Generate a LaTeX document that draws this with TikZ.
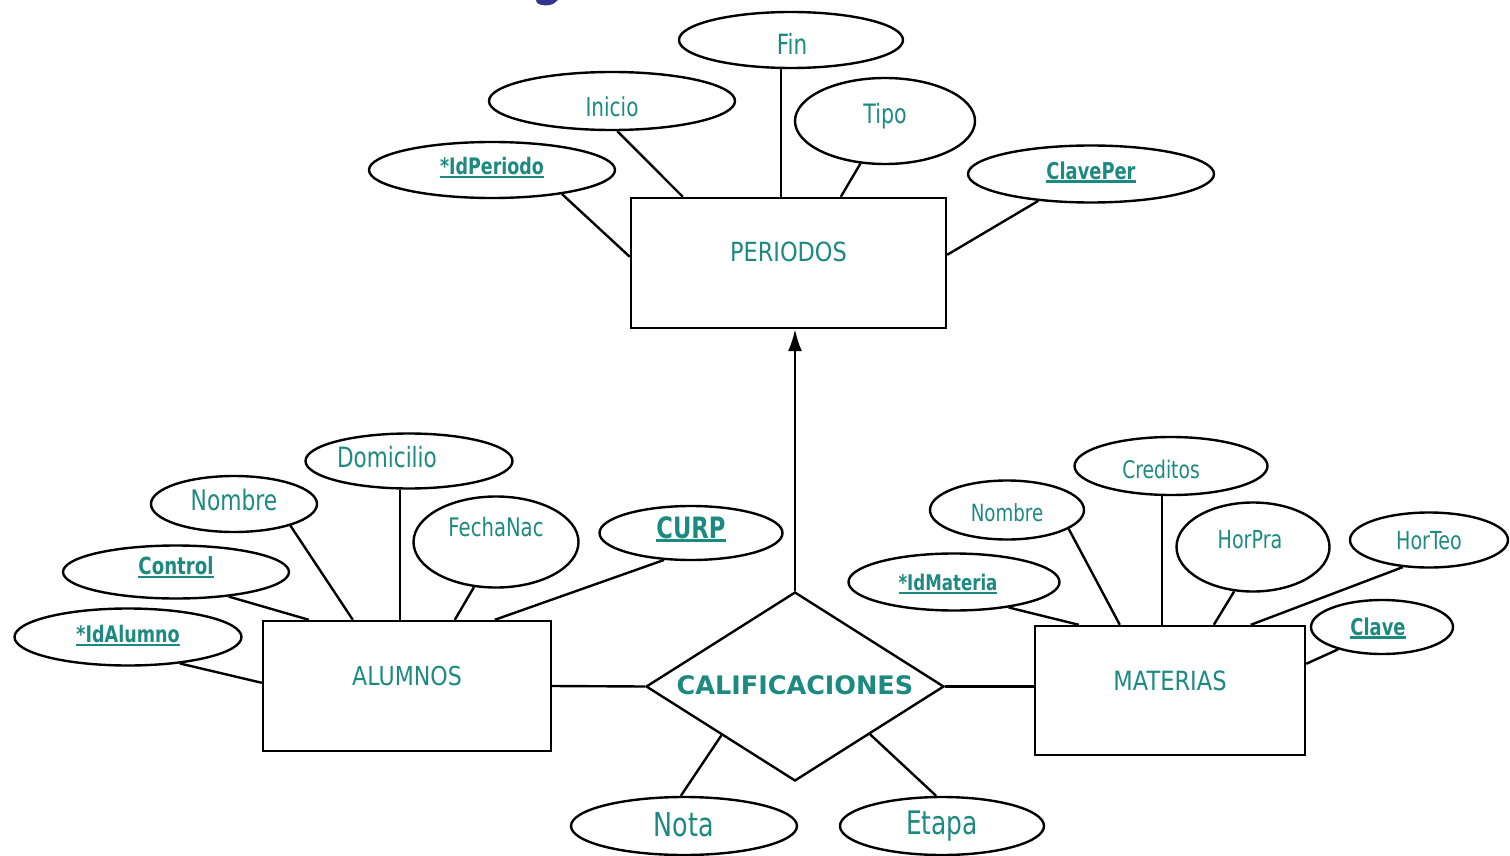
\documentclass[tikz,border=0pt]{standalone}
\usepackage{fontspec}
\setmainfont{DejaVu Sans}[FakeStretch=0.77]
\newfontfamily\entfont{DejaVu Sans}[FakeStretch=0.85]
\newfontfamily\widefont{DejaVu Sans}
\usetikzlibrary{shapes.geometric,arrows.meta,calc}
\definecolor{ertext}{RGB}{28,138,128}
\definecolor{titlenavy}{RGB}{52,52,140}
\newcommand\tsz[1]{\fontsize{#1}{#1}\selectfont}
% underlined key attribute
\newcommand\keyul[1]{\setbox0=\hbox{#1}\rlap{\rule[-3.5pt]{\wd0}{2.2pt}}\box0}

\begin{document}
\begin{tikzpicture}[x=1pt,y=-1pt,
  line width=2.4pt,
  entity/.style 2 args={rectangle, draw, minimum width=#1, minimum height=#2, inner sep=0},
  attr/.style 2 args={ellipse, draw, minimum width=#1, minimum height=#2, inner sep=0},
  txt/.style={text=ertext, inner sep=0},
  keytxt/.style={txt, font=\bfseries\tsz{#1}},
  plaintxt/.style={txt, font=\tsz{#1}},
  enttxt/.style={txt, font=\entfont\tsz{#1}},
]
\fill[white] (0,0) rectangle (1510,856);
\useasboundingbox (0,0) rectangle (1510,856);

% edge of the title lettering above the diagram
\fill[titlenavy] (536,0) -- (558,0) -- (553,4) .. controls (549,6) and (541,6) .. (537,3) -- cycle;

% ---------- PERIODOS ----------
\node[entity={315}{130}, label={[enttxt=26.4, yshift=11pt]center:PERIODOS}] (per) at (788.5,263) {};
\node[attr={224}{56}, label={[plaintxt=27.9, yshift=-4pt, xshift=1pt]center:Fin}] (fin) at (791,40) {};
\node[attr={246}{58}, label={[plaintxt=26, yshift=-6pt]center:Inicio}] (ini) at (612,101) {};
\node[attr={180}{86}, label={[plaintxt=26.7, yshift=5pt]center:Tipo}] (tipo) at (885,121) {};
\node[attr={246}{56}, label={[keytxt=22.7, yshift=2.5pt]center:\keyul{*IdPeriodo}}] (idp) at (492,170) {};
\node[attr={246}{57}, label={[keytxt=23.2, yshift=2pt]center:\keyul{ClavePer}}] (clp) at (1091,174) {};

\coordinate (finfoot) at ($(per.north)+(-7.5,0)$);
\draw (finfoot |- fin.south) -- (finfoot);
\draw (ini.-80) -- ($(per.north west)+(53,0)$);
\draw (tipo.-120) -- ($(per.north west)+(211,0)$);
\draw (idp.-19) -- ($(per.north west)+(0,60)$);
\draw (clp.-153) -- ($(per.north east)+(0,58)$);

% ---------- ALUMNOS ----------
\node[entity={288}{130}, label={[enttxt=26, yshift=10pt]center:ALUMNOS}] (alu) at (407,686) {};
\node[attr={207}{55}, label={[plaintxt=28, yshift=4pt, xshift=-22pt]center:Domicilio}] (dom) at (409,461) {};
\node[attr={166}{56}, label={[plaintxt=28.3, yshift=4pt]center:Nombre}] (noma) at (234,504) {};
\node[attr={165}{91}, label={[plaintxt=25.5, yshift=15pt]center:FechaNac}] (fna) at (496,542) {};
\node[attr={183}{54}, label={[keytxt=29.4, yshift=4pt]center:\keyul{CURP}}] (curp) at (691,533) {};
\node[attr={226}{53}, label={[keytxt=23.6, yshift=4.5pt]center:\keyul{Control}}] (ctl) at (176,572) {};
\node[attr={227}{57}, label={[keytxt=22.8, yshift=1pt]center:\keyul{*IdAlumno}}] (ida) at (128,637) {};

\coordinate (domfoot) at ($(alu.north)+(-7,0)$);
\draw (domfoot |- dom.south) -- (domfoot);
\draw (noma.-21) -- ($(alu.north west)+(91,0)$);
\draw (fna.-116) -- ($(alu.north west)+(193,0)$);
\draw (curp.-135) -- ($(alu.north west)+(233,0)$);
\draw (ctl.-25) -- ($(alu.north west)+(47,0)$);
\draw (ida.-27) -- ($(alu.north west)+(0,63)$);

% ---------- MATERIAS ----------
\node[entity={270}{129}, label={[enttxt=26.5, yshift=9.5pt]center:MATERIAS}] (mat) at (1170,690.5) {};
\node[attr={193}{58}, label={[plaintxt=24.3, yshift=-3pt, xshift=-10pt]center:Creditos}] (cred) at (1171,466) {};
\node[attr={154}{59}, label={[plaintxt=23.7, yshift=-3pt]center:Nombre}] (nomm) at (1007,510) {};
\node[attr={153}{89}, label={[plaintxt=24.8, yshift=7pt, xshift=-3pt]center:HorPra}] (hpra) at (1253,547) {};
\node[attr={158}{55}, label={[plaintxt=24.8, yshift=-1pt]center:HorTeo}] (hteo) at (1429,540) {};
\node[attr={211}{57}, label={[keytxt=21.6, yshift=-2pt, xshift=-6pt]center:\keyul{*IdMateria}}] (idm) at (954,582) {};
\node[attr={142}{54}, label={[keytxt=23.2, yshift=-1pt, xshift=-4pt]center:\keyul{Clave}}] (clv) at (1382,627) {};

\coordinate (credfoot) at ($(mat.north west)+(128,0)$);
\draw (credfoot |- cred.south) -- (credfoot);
\draw (nomm.-17) -- ($(mat.north west)+(86,0)$);
\draw (hpra.-113) -- ($(mat.north west)+(180,0)$);
\draw (hteo.-134) -- ($(mat.north west)+(217,0)$);
\draw (idm.-25) -- ($(mat.north west)+(45,0)$);
\draw (clv.-153) -- ($(mat.north east)+(0,39)$);

% ---------- CALIFICACIONES ----------
\node[diamond, draw, aspect=1.577, minimum width=298, minimum height=189, inner sep=0,
  label={[txt, font=\widefont\bfseries\tsz{25.5}, yshift=1.5pt]center:CALIFICACIONES}] (cal) at (795,686.5) {};
\node[attr={226}{58}, label={[plaintxt=33, yshift=1pt]center:Nota}] (nota) at (684,826) {};
\node[attr={204}{58}, label={[plaintxt=32.4]center:Etapa}] (eta) at (942,826) {};

\draw (alu.east) -- (cal.west);
\draw (cal.east) -- (cal.east -| mat.west);
\draw[-{Latex[length=22pt,width=14pt]}] (cal.north) -- (cal.north |- per.south);
\draw (nota.96) -- ($(cal.west)!0.51!(cal.south)$);
\draw (eta.101) -- ($(cal.east)!0.5!(cal.south)$);

\end{tikzpicture}
\end{document}
